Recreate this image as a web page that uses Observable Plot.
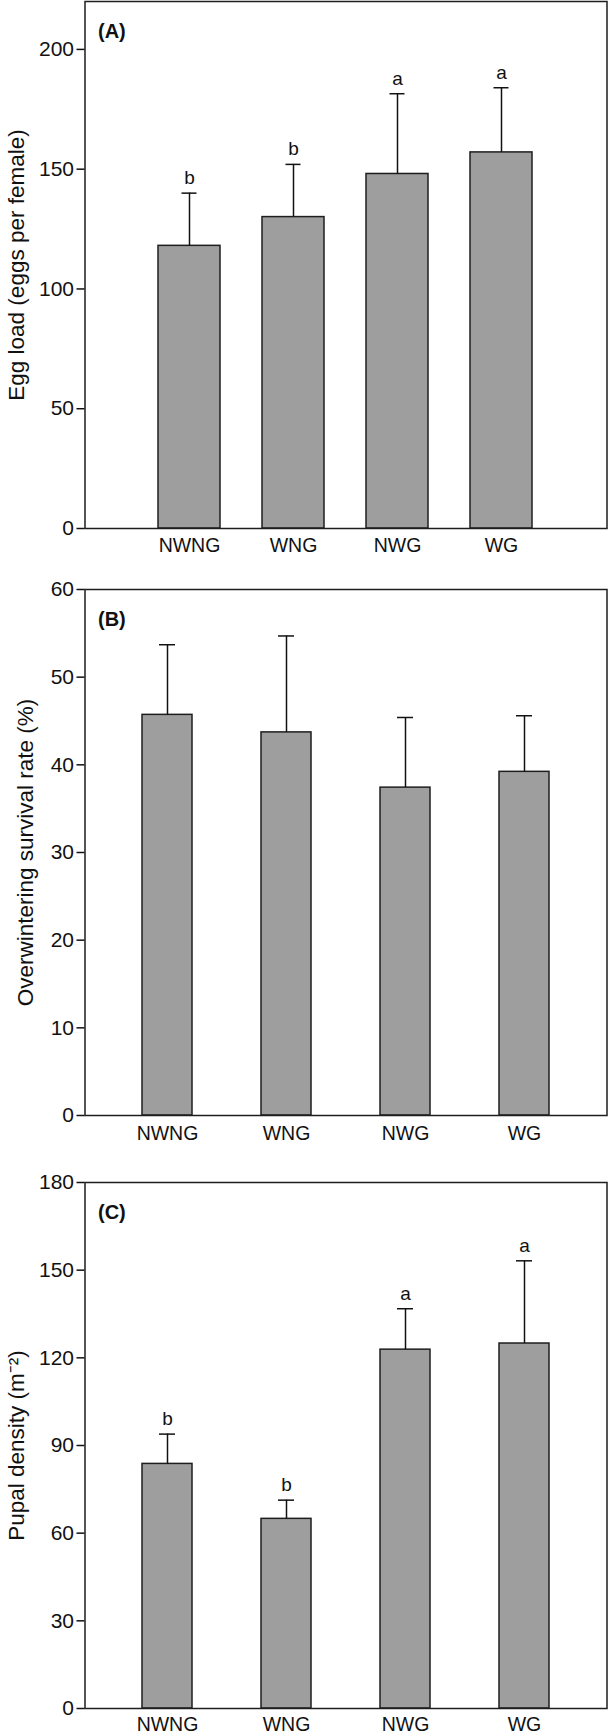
<!DOCTYPE html>
<html><head><meta charset="utf-8">
<script src="https://cdn.jsdelivr.net/npm/d3@7"></script>
<script src="https://cdn.jsdelivr.net/npm/@observablehq/plot@0.6"></script>
<style>
html,body{margin:0;padding:0;background:#fff;}
#chart{width:609px;height:1733px;overflow:hidden;}
#chart svg{display:block;}
</style></head><body><div id="chart"></div>
<script>
const categories = ["NWNG", "WNG", "NWG", "WG"];

const eggMean = [118, 130, 148, 157];
const eggErr = [22, 22, 33.5, 27];
const eggLetters = ["b", "b", "a", "a"];
const eggTicks = [0, 50, 100, 150, 200];

const survMean = [45.7, 43.7, 37.4, 39.2];
const survErr = [8.0, 11.0, 8.0, 6.4];
const survTicks = [0, 10, 20, 30, 40, 50, 60];

const pupaMean = [83.7, 64.9, 122.8, 124.9];
const pupaErr = [10.2, 6.4, 14.0, 28.3];
const pupaLetters = ["b", "b", "a", "a"];
const pupaTicks = [0, 30, 60, 90, 120, 150, 180];

const FONT = "'Liberation Sans', Arial, Helvetica, sans-serif";

function panel(o) {
  const data = categories.map((c, i) => ({
    c, m: o.mean[i], u: o.mean[i] + o.err[i], l: o.letters ? o.letters[i] : ""
  }));
  return Plot.plot({
    width: 609, height: o.height,
    marginTop: o.marginTop, marginBottom: o.marginBottom,
    marginLeft: 84.5, marginRight: 2.5,
    style: {fontFamily: FONT, fontSize: "20px", background: "#fff", color: "#111"},
    x: {type: "band", domain: categories, paddingInner: o.paddingInner, paddingOuter: o.paddingOuter, align: 0.5},
    y: {domain: o.domain, ticks: o.ticks},
    marks: [
      Plot.barY(data, {x: "c", y: "m", fill: "#9e9e9e", stroke: "#1e1e1e", strokeWidth: 1.5}),
      Plot.ruleX(data, {x: "c", y1: "m", y2: "u", stroke: "#111", strokeWidth: 1.5}),
      Plot.tickY(data, {x: "c", y: "u", stroke: "#111", strokeWidth: 1.5, insetLeft: o.capInset, insetRight: o.capInset}),
      o.letters ? Plot.text(data, {x: "c", y: "u", text: "l", dy: -15, fontSize: 19, lineAnchor: "middle", fill: "#111"}) : null,
      Plot.frame({stroke: "#1e1e1e", strokeWidth: 1.5}),
      Plot.axisY({ticks: o.ticks, tickSize: 8, tickPadding: 3, fontSize: 21, label: null, strokeWidth: 1.5}),
      Plot.axisX({tickSize: 0, tickPadding: o.labelPad, fontSize: 19.5, label: null}),
      Plot.text([o.tag], {frameAnchor: "top-left", dx: 13, dy: 30, textAnchor: "start", lineAnchor: "middle", fontSize: 20, fontWeight: "bold", fill: "#111"}),
      Plot.text([o.title], {frameAnchor: "left", dx: o.titleX, rotate: -90, fontSize: 22.5, textAnchor: "middle", lineAnchor: "middle", fill: "#111"})
    ]
  });
}

const root = document.getElementById("chart");
root.appendChild(panel({
  mean: eggMean, err: eggErr, letters: eggLetters, ticks: eggTicks, domain: [0, 220],
  tag: "(A)", title: "Egg load (eggs per female)",
  height: 570, marginTop: 1, marginBottom: 42,
  paddingInner: 0.4, paddingOuter: 0.7, capInset: 23.5, labelPad: 10, titleX: -68
}));
root.appendChild(panel({
  mean: survMean, err: survErr, letters: null, ticks: survTicks, domain: [0, 60],
  tag: "(B)", title: "Overwintering survival rate (%)",
  height: 590, marginTop: 19, marginBottom: 45,
  paddingInner: 0.58, paddingOuter: 0.483, capInset: 17, labelPad: 11, titleX: -59
}));
root.appendChild(panel({
  mean: pupaMean, err: pupaErr, letters: pupaLetters, ticks: pupaTicks, domain: [0, 180],
  tag: "(C)", title: "Pupal density (m\u207B\u00B2)",
  height: 573, marginTop: 22, marginBottom: 25,
  paddingInner: 0.58, paddingOuter: 0.483, capInset: 17, labelPad: 9, titleX: -68
}));
</script>
</body></html>
